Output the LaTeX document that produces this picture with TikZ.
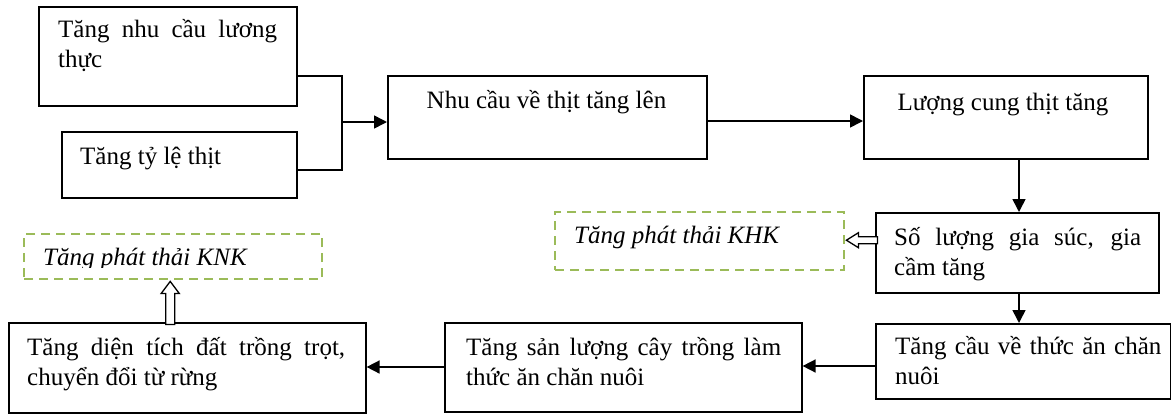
\documentclass[tikz,border=0pt]{standalone}
\usepackage{fontspec}
\setmainfont{Liberation Serif}
\usetikzlibrary{arrows.meta,calc}
\definecolor{dgreen}{HTML}{9BBB59}
\begin{document}
\begin{tikzpicture}[x=1pt,y=-1pt,
  box/.style={draw, line width=1.6pt, inner sep=0pt, anchor=north west},
  dbox/.style={draw=dgreen, line width=2.4pt, dash pattern=on 9pt off 6pt, inner sep=0pt, anchor=north west},
  txt/.style={font=\fontsize{25}{30}\selectfont, inner sep=0pt, anchor=base west},
  jtxt/.style={txt, align=justify},
  conn/.style={line width=1.6pt},
  arr/.style={line width=1.6pt, -{Triangle[length=13pt,width=13pt]}},
  hollow/.style={draw, line width=1.3pt, fill=white, line join=miter}]
\useasboundingbox (0,0) rectangle (1171,413);
% boxes
\node[box, minimum width=258pt, minimum height=99pt] (A) at (38,6) {};
\node[box, minimum width=235pt, minimum height=66pt] (B) at (61,131) {};
\node[box, minimum width=319pt, minimum height=83pt] (C) at (387,75) {};
\node[box, minimum width=284pt, minimum height=83pt] (D) at (863,75) {};
\node[box, minimum width=283pt, minimum height=80pt] (E) at (875,212) {};
\node[box, minimum width=295pt, minimum height=75pt] (F) at (875,323) {};
\node[box, minimum width=357pt, minimum height=89pt] (G) at (444,322) {};
\node[box, minimum width=357pt, minimum height=90pt] (H) at (8,322) {};
\node[dbox, minimum width=289pt, minimum height=58pt] (KHK) at (554,211) {};
\node[dbox, minimum width=298pt, minimum height=45pt] (KNK) at (23,233) {};
% texts
\node[jtxt, text width=219pt] (tA) at (58,37) {Tăng nhu cầu lương thực};
\node[txt] (tB) at (80,164) {Tăng tỷ lệ thịt};
\node[txt, anchor=base] (tC) at (546.5,108) {Nhu cầu về thịt tăng lên};
\node[txt, anchor=base] (tD) at (1003,110) {Lượng cung thịt tăng};
\node[jtxt, text width=247pt] (tE) at (894,245) {Số lượng gia súc, gia cầm tăng};
\node[txt, align=left, text width=268pt] (tF) at (895,354) {Tăng cầu về thức ăn chăn nuôi};
\node[jtxt, text width=315pt] (tG) at (466,355) {Tăng sản lượng cây trồng làm thức ăn chăn nuôi};
\node[jtxt, text width=318pt] (tH) at (27,355) {Tăng diện tích đất trồng trọt, chuyển đổi từ rừng};
\node[txt, font=\fontsize{25}{30}\selectfont\itshape] (tKHK) at (574,243) {Tăng phát thải KHK};
\begin{scope}
\clip (23,233) rectangle (321,267);
\node[txt, font=\fontsize{25}{30}\selectfont\itshape] (tKNK) at (43,265) {Tăng phát thải KNK};
\end{scope}
% connectors
\coordinate (jA) at (342,76);
\coordinate (jB) at (342,170);
\coordinate (j) at (342,122);
\coordinate (yCD) at (0,121);
\coordinate (xDE) at (1019,0);
\coordinate (yFG) at (0,366);
\coordinate (yGH) at (0,367);
\draw[conn] (A.east |- jA) -- (jA) -- (jB) -- (B.east |- jB);
\draw[arr] (j) -- (C.west |- j);
\draw[arr] (C.east |- yCD) -- (D.west |- yCD);
\draw[arr] (D.south -| xDE) -- (E.north -| xDE);
\draw[arr] (E.south -| xDE) -- (F.north -| xDE);
\draw[arr] (F.west |- yFG) -- (G.east |- yFG);
\draw[arr] (G.west |- yGH) -- (H.east |- yGH);
% hollow arrows
\draw[hollow] ($(KHK.east)+(1,-1)$) -- ++(12,-7.5) -- ++(0,4) -- ++(19,0) -- ++(0,7) -- ++(-19,0) -- ++(0,4) -- cycle;
\draw[hollow] ($(KNK.south)+(-3,1)$) -- ++(-9,12) -- ++(4.5,0) -- ++(0,31) -- ++(9,0) -- ++(0,-31) -- ++(4.5,0) -- cycle;
\end{tikzpicture}
\end{document}
